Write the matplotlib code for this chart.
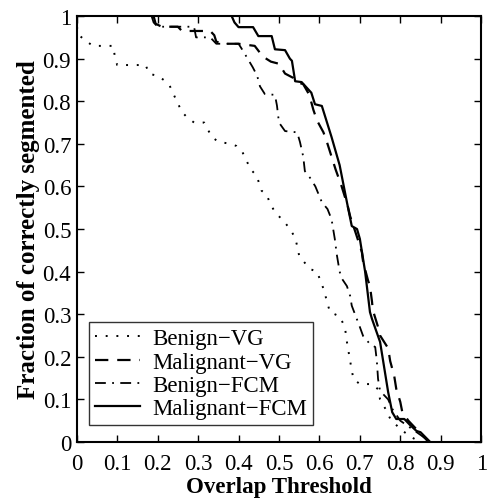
import matplotlib
matplotlib.use("Agg")
import matplotlib.pyplot as plt

plt.rcParams['font.family'] = ['Liberation Serif', 'DejaVu Serif']

# Benign-VG (dotted)
bvg_x = [0.0, 0.008, 0.025, 0.04, 0.09, 0.094, 0.10, 0.17, 0.18, 0.20, 0.215, 0.23, 0.24, 0.25,
         0.26, 0.272, 0.29, 0.315, 0.334, 0.35, 0.38, 0.395, 0.41, 0.42, 0.43, 0.445, 0.45,
         0.457, 0.47, 0.478, 0.49, 0.50, 0.515, 0.527, 0.54, 0.545, 0.55, 0.56, 0.577, 0.594,
         0.61, 0.626, 0.65, 0.663, 0.668, 0.676, 0.684, 0.70, 0.73, 0.745, 0.75, 0.762, 0.775,
         0.80, 0.83, 0.85]
bvg_y = [0.975, 0.953, 0.94, 0.93, 0.93, 0.906, 0.885, 0.885, 0.864, 0.86, 0.85, 0.836, 0.815, 0.795,
         0.775, 0.763, 0.75, 0.75, 0.716, 0.705, 0.70, 0.695, 0.68, 0.66, 0.64, 0.625, 0.61,
         0.59, 0.58, 0.56, 0.54, 0.53, 0.515, 0.50, 0.48, 0.46, 0.437, 0.425, 0.406, 0.40,
         0.36, 0.305, 0.295, 0.27, 0.235, 0.19, 0.148, 0.136, 0.136, 0.124, 0.10, 0.08, 0.055,
         0.03, 0.01, 0.0]

# Malignant-VG (dashed)
mvg_x = [0.19, 0.195, 0.21, 0.25, 0.26, 0.33, 0.34, 0.345, 0.36, 0.40, 0.44, 0.46, 0.48, 0.50,
         0.515, 0.535, 0.545, 0.56, 0.575, 0.585, 0.594, 0.61, 0.62, 0.63, 0.64, 0.655, 0.67,
         0.676, 0.69, 0.705, 0.708, 0.72, 0.725, 0.73, 0.732, 0.745, 0.75, 0.77, 0.775, 0.785,
         0.79, 0.80, 0.805, 0.82, 0.83, 0.85, 0.87]
mvg_y = [1.0, 0.982, 0.975, 0.975, 0.965, 0.965, 0.955, 0.94, 0.935, 0.935, 0.93, 0.905, 0.893, 0.888,
         0.865, 0.855, 0.845, 0.84, 0.815, 0.78, 0.755, 0.727, 0.70, 0.67, 0.64, 0.60, 0.554,
         0.53, 0.49, 0.446, 0.423, 0.38, 0.366, 0.33, 0.31, 0.27, 0.25, 0.22, 0.19, 0.155,
         0.125, 0.094, 0.07, 0.05, 0.04, 0.02, 0.0]

# Benign-FCM (dash-dot)
bfcm_x = [0.185, 0.19, 0.20, 0.29, 0.295, 0.33, 0.345, 0.40, 0.41, 0.435, 0.446, 0.453, 0.465,
          0.49, 0.495, 0.50, 0.515, 0.545, 0.552, 0.56, 0.564, 0.577, 0.59, 0.606, 0.62, 0.63,
          0.638, 0.643, 0.65, 0.656, 0.668, 0.676, 0.68, 0.688, 0.70, 0.708, 0.725, 0.738,
          0.742, 0.745, 0.75, 0.77, 0.78, 0.80, 0.83, 0.86, 0.87]
bfcm_y = [1.0, 0.985, 0.975, 0.975, 0.95, 0.95, 0.935, 0.935, 0.92, 0.88, 0.86, 0.835, 0.817,
          0.815, 0.79, 0.75, 0.73, 0.727, 0.704, 0.67, 0.636, 0.62, 0.60, 0.563, 0.547, 0.523,
          0.477, 0.44, 0.40, 0.383, 0.366, 0.343, 0.32, 0.30, 0.27, 0.249, 0.23, 0.223,
          0.19, 0.148, 0.12, 0.10, 0.078, 0.05, 0.03, 0.01, 0.0]

# Malignant-FCM (solid)
mfcm_x = [0.383, 0.39, 0.40, 0.436, 0.449, 0.482, 0.49, 0.515, 0.527, 0.532, 0.54, 0.556, 0.58,
          0.589, 0.606, 0.63, 0.65, 0.668, 0.68, 0.693, 0.70, 0.713, 0.725, 0.73, 0.75, 0.77,
          0.78, 0.79, 0.81, 0.824, 0.84, 0.85, 0.874]
mfcm_y = [1.0, 0.985, 0.974, 0.974, 0.953, 0.953, 0.922, 0.92, 0.90, 0.895, 0.847, 0.845, 0.82,
          0.793, 0.789, 0.716, 0.65, 0.563, 0.507, 0.50, 0.477, 0.40, 0.305, 0.289, 0.235, 0.117,
          0.07, 0.054, 0.054, 0.04, 0.026, 0.023, 0.0]

labels = ['Benign\u2212VG', 'Malignant\u2212VG', 'Benign\u2212FCM', 'Malignant\u2212FCM']
xticks = [0, 0.1, 0.2, 0.3, 0.4, 0.5, 0.6, 0.7, 0.8, 0.9, 1]
yticks = [0, 0.1, 0.2, 0.3, 0.4, 0.5, 0.6, 0.7, 0.8, 0.9, 1]
xtick_labels = ['0', '0.1', '0.2', '0.3', '0.4', '0.5', '0.6', '0.7', '0.8', '0.9', '1']
ytick_labels = ['0', '0.1', '0.2', '0.3', '0.4', '0.5', '0.6', '0.7', '0.8', '0.9', '1']

fig = plt.figure(figsize=(4.89, 5.02), dpi=100)
ax = fig.add_axes([0.157, 0.1175, 0.827, 0.8485])

ax.plot(bvg_x, bvg_y, color='black', linestyle=(0, (1, 4.5)), linewidth=1.4, label=labels[0])
ax.plot(mvg_x, mvg_y, color='black', linestyle=(0, (6, 4)), linewidth=1.6, label=labels[1])
ax.plot(bfcm_x, bfcm_y, color='black', linestyle=(0, (6, 3.5, 1, 3.5)), linewidth=1.3, label=labels[2])
ax.plot(mfcm_x, mfcm_y, color='black', linestyle='-', linewidth=1.6, label=labels[3])

ax.set_xlim(0, 1)
ax.set_ylim(0, 1)
ax.set_xticks(xticks)
ax.set_xticklabels(xtick_labels)
ax.set_yticks(yticks)
ax.set_yticklabels(ytick_labels)
ax.tick_params(direction='in', top=True, right=True, length=5, width=1.0,
               labelsize=16.5)
ax.tick_params(axis='x', pad=8)
ax.tick_params(axis='y', pad=4)
for s in ax.spines.values():
    s.set_linewidth(1.5)

ax.set_xlabel('Overlap Threshold', fontsize=16.5, fontweight='bold', labelpad=1)
ax.set_ylabel('Fraction of correctly segmented', fontsize=18, fontweight='bold', labelpad=2)

leg = ax.legend(loc='lower left', bbox_to_anchor=(0.03, 0.04), fontsize=16.5, frameon=True,
                fancybox=False, edgecolor='black', handlelength=2.0, borderpad=0.25,
                labelspacing=0.1, handletextpad=0.5, borderaxespad=0)
leg.get_frame().set_linewidth(1.0)

fig.savefig('out.png', dpi=100)
